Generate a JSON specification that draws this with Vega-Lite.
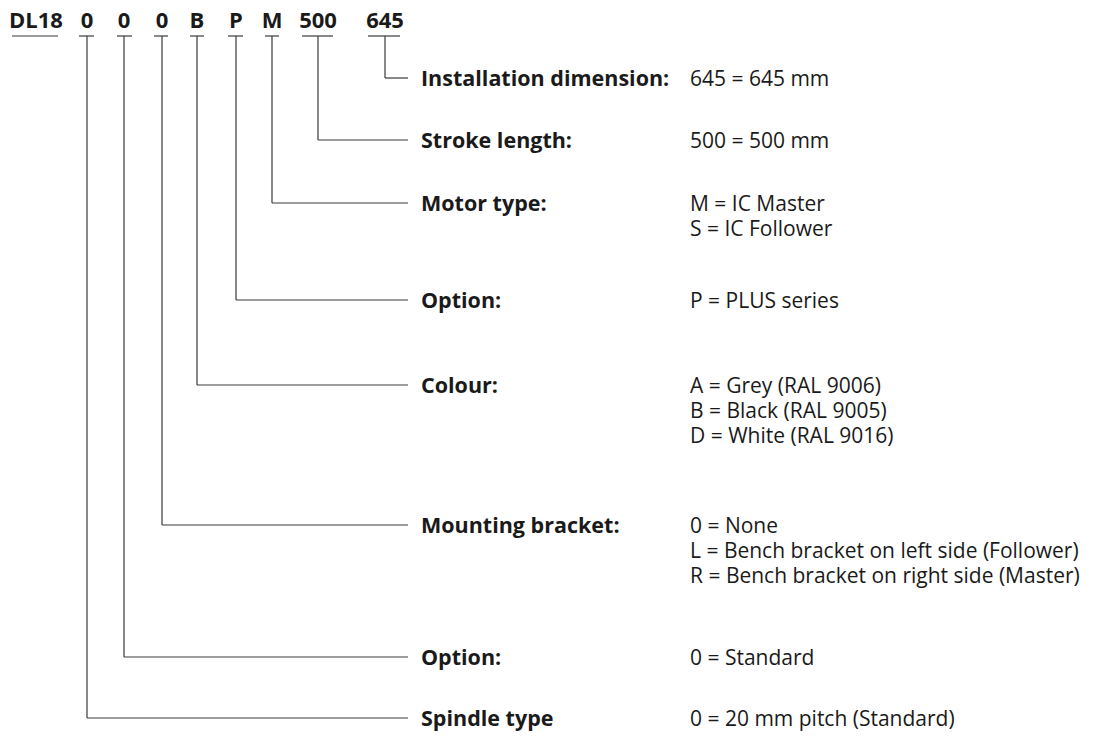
{
  "$schema": "https://vega.github.io/schema/vega-lite/v6.json",
  "width": 1106,
  "height": 736,
  "padding": 0,
  "autosize": {"type": "fit", "contains": "padding"},
  "background": "white",
  "config": {"view": {"stroke": null}},
  "datasets": {
    "items": [
      {"code": "DL18", "cx": 36, "u1": 12, "u2": 58},
      {"code": "0", "cx": 87, "u1": 79, "u2": 94, "level": 718, "label": "Spindle type"},
      {"code": "0", "cx": 124, "u1": 117, "u2": 132, "level": 657, "label": "Option:"},
      {"code": "0", "cx": 162, "u1": 154, "u2": 168, "level": 525, "label": "Mounting bracket:"},
      {"code": "B", "cx": 197, "u1": 190, "u2": 204, "level": 385, "label": "Colour:"},
      {"code": "P", "cx": 236, "u1": 228, "u2": 243, "level": 300, "label": "Option:"},
      {"code": "M", "cx": 272, "u1": 265, "u2": 279, "level": 203, "label": "Motor type:"},
      {"code": "500", "cx": 318, "u1": 302, "u2": 333, "level": 140, "label": "Stroke length:"},
      {"code": "645", "cx": 385, "u1": 368, "u2": 400, "level": 78, "label": "Installation dimension:"}
    ],
    "options": [
      {"value": ["645 = 645 mm"], "row": 78},
      {"value": ["500 = 500 mm"], "row": 140},
      {"value": ["M = IC Master", "\u00a0S = IC Follower"], "row": 203},
      {"value": ["P = PLUS series"], "row": 300},
      {"value": ["A = Grey (RAL 9006)", "B = Black (RAL 9005)", "D = White (RAL 9016)"], "row": 385},
      {"value": ["0 = None", "L = Bench bracket on left side (Follower)", "R = Bench bracket on right side (Master)"], "row": 525},
      {"value": ["0 = Standard"], "row": 657},
      {"value": ["0 = 20 mm pitch (Standard)"], "row": 718}
    ]
  },
  "layer": [
    {
      "data": {"name": "items"},
      "mark": {"type": "rule", "color": "#3a3a3a", "strokeWidth": 1.2},
      "encoding": {
        "x": {"field": "u1", "type": "quantitative", "scale": {"domain": [0, 1106], "nice": false, "zero": false}, "axis": null},
        "x2": {"field": "u2"},
        "y": {"datum": 36, "type": "quantitative", "scale": {"domain": [0, 736], "nice": false, "zero": false, "reverse": true}, "axis": null}
      }
    },
    {
      "data": {"name": "items"},
      "transform": [{"filter": "isValid(datum.level)"}],
      "mark": {"type": "rule", "color": "#3a3a3a", "strokeWidth": 1.2},
      "encoding": {
        "x": {"field": "cx", "type": "quantitative"},
        "y": {"field": "level", "type": "quantitative"},
        "y2": {"datum": 36}
      }
    },
    {
      "data": {"name": "items"},
      "transform": [{"filter": "isValid(datum.level)"}],
      "mark": {"type": "rule", "color": "#3a3a3a", "strokeWidth": 1.2},
      "encoding": {
        "x": {"field": "cx", "type": "quantitative"},
        "x2": {"datum": 408},
        "y": {"field": "level", "type": "quantitative"}
      }
    },
    {
      "data": {"name": "items"},
      "mark": {"type": "text", "font": "Open Sans", "fontSize": 22, "fontWeight": "bold", "color": "#1a1a1a", "align": "center", "baseline": "alphabetic"},
      "encoding": {
        "x": {"field": "cx", "type": "quantitative"},
        "y": {"datum": 28, "type": "quantitative"},
        "text": {"field": "code"}
      }
    },
    {
      "data": {"name": "items"},
      "transform": [{"filter": "isValid(datum.level)"}],
      "mark": {"type": "text", "font": "Open Sans", "fontSize": 21.5, "fontWeight": "bold", "color": "#1a1a1a", "align": "left", "baseline": "alphabetic", "dy": 7.7},
      "encoding": {
        "x": {"datum": 421, "type": "quantitative"},
        "y": {"field": "level", "type": "quantitative"},
        "text": {"field": "label"}
      }
    },
    {
      "data": {"name": "options"},
      "mark": {"type": "text", "font": "Open Sans", "fontSize": 21, "lineHeight": 25, "color": "#1a1a1a", "align": "left", "baseline": "alphabetic", "dy": 7.5},
      "encoding": {
        "x": {"datum": 690, "type": "quantitative"},
        "y": {"field": "row", "type": "quantitative"},
        "text": {"field": "value"}
      }
    }
  ]
}
